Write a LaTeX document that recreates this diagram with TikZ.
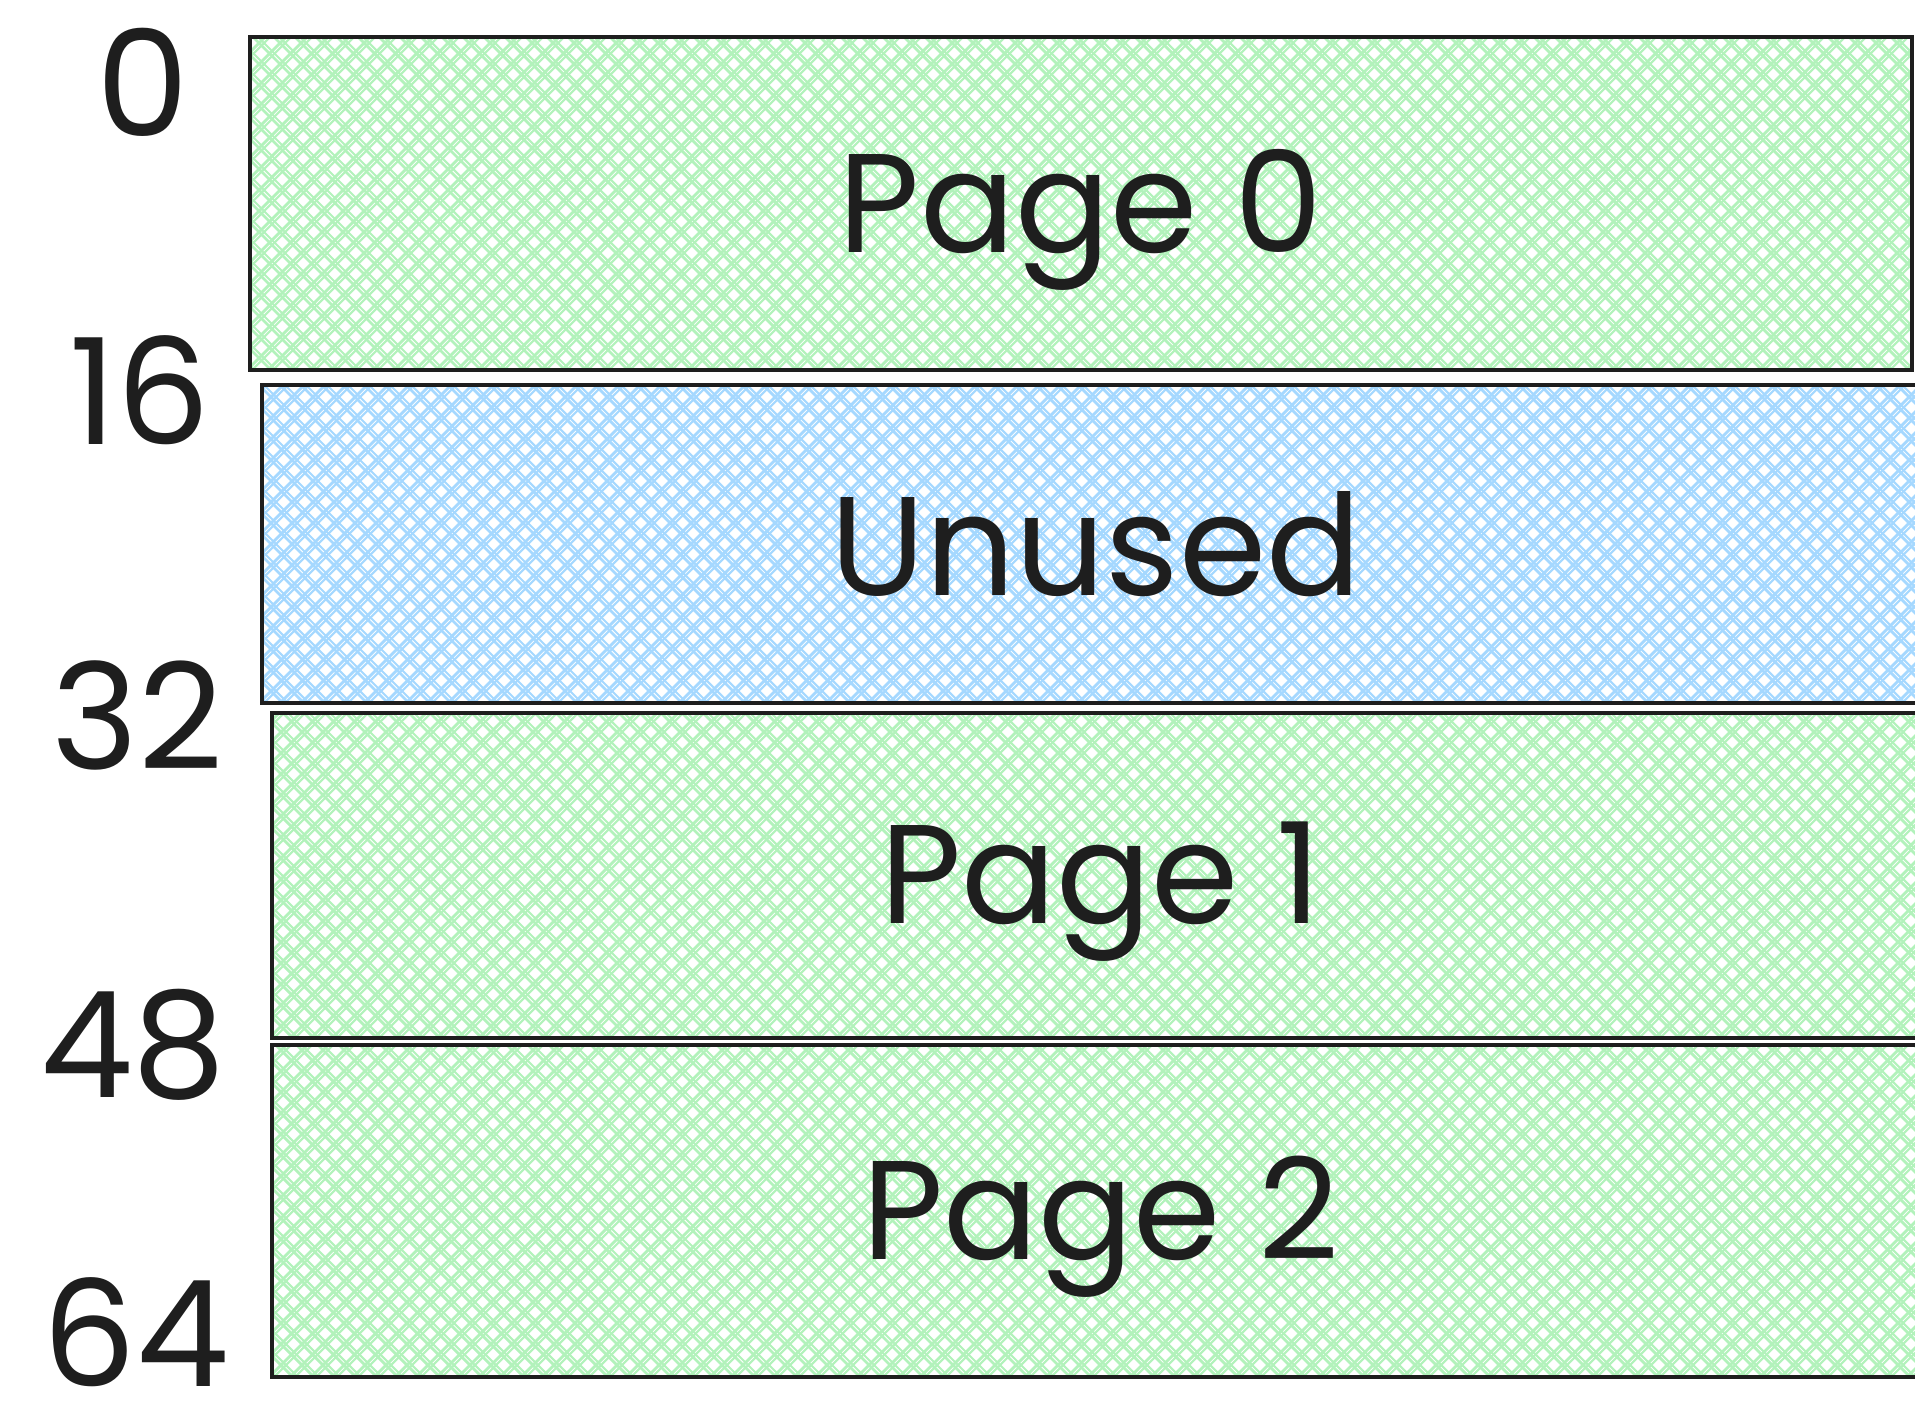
\documentclass[tikz,border=0pt]{standalone}
\usepackage{fontspec}
\setmainfont{Poppins}
\usetikzlibrary{positioning,calc}
\definecolor{ink}{HTML}{1E1E1E}
\definecolor{pageG}{HTML}{B2F2BB}
\definecolor{freeB}{HTML}{A5D8FF}
\newcommand{\lowtext}[1]{\raisebox{-1.6mm}[\height][\depth]{#1}}
\tikzset{
  band/.style={draw=ink, line width=1.2pt, rectangle, inner sep=0pt, minimum height=3.3cm, font=\fontsize{40}{48}\selectfont, text=ink},
  hatch/.style={path picture={
    \foreach \k in {0,...,100}{
      \draw[#1, line width=0.8pt] ($(path picture bounding box.south west)+(\k*0.21-3.6,0)$) -- ++(4,4);
      \draw[#1, line width=0.6pt] ($(path picture bounding box.south west)+(\k*0.21-3.55,0)$) -- ++(4,4);
      \draw[#1, line width=0.8pt] ($(path picture bounding box.south west)+(\k*0.21,0)$) -- ++(-4,4);
      \draw[#1, line width=0.6pt] ($(path picture bounding box.south west)+(\k*0.21+0.05,0)$) -- ++(-4,4);
    }}},
  offs/.style={font=\fontsize{42}{50}\selectfont, text=ink, inner sep=0pt},
}

\begin{document}
\begin{tikzpicture}
  \useasboundingbox (0,0) rectangle (19.15,-14.11);
  % the address space, top to bottom
  \node[band, hatch=pageG, minimum width=16.62cm, minimum height=3.33cm] (page0) at (10.81,-2.035) {\lowtext{Page 0}};
  \node[band, hatch=freeB, minimum width=16.68cm, minimum height=3.18cm] (unused) at (10.96,-5.44) {Unused};
  \node[band, hatch=pageG, minimum width=16.58cm, minimum height=3.25cm] (page1) at (11.01,-8.755) {\lowtext{Page 1}};
  \node[band, hatch=pageG, minimum width=16.58cm, minimum height=3.32cm] (page2) at (11.01,-12.11) {\lowtext{Page 2}};
  % offsets on the left
  \node[offs] (off0) at (1.43,-0.82) {0};
  \node[offs] (off16) at (1.40,-3.90) {16};
  \node[offs] (off32) at (1.37,-7.15) {32};
  \node[offs] (off48) at (1.33,-10.45) {48};
  \node[offs] (off64) at (1.36,-13.32) {64};
\end{tikzpicture}
\end{document}
